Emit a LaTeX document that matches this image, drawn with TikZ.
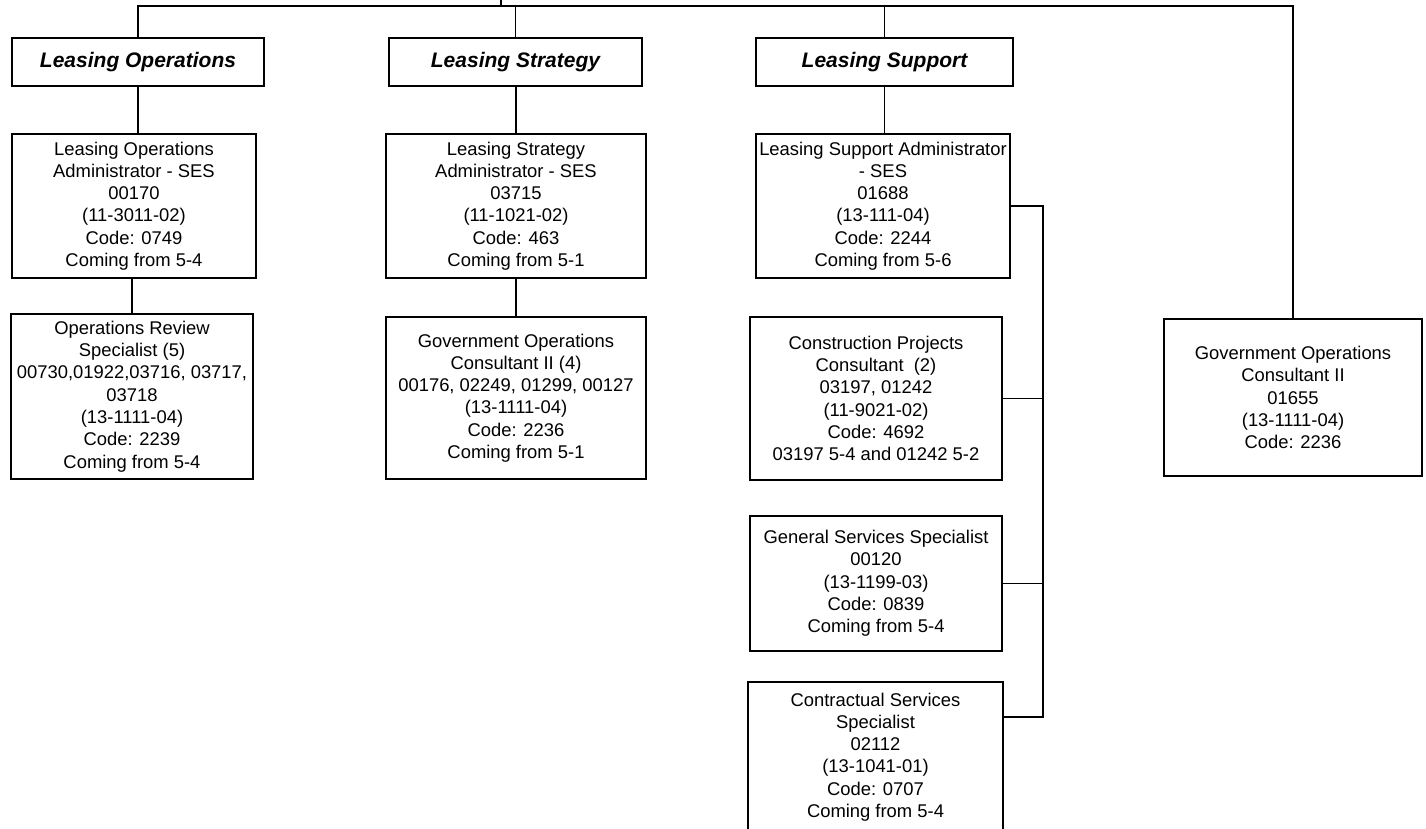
\documentclass[tikz,border=0pt]{standalone}
\usepackage{fontspec}
\setmainfont{Liberation Sans}
\usetikzlibrary{calc}
\begin{document}
\begin{tikzpicture}[x=1pt,y=-1pt,line width=1.8pt,
  every node/.style={inner sep=0pt,outer sep=0pt},
  unit/.style={draw,align=center,font=\fontsize{18.4}{22.3}\selectfont},
  head/.style={draw,align=center,font=\fontsize{21}{25}\selectfont\bfseries\itshape}]
\useasboundingbox (0,0) rectangle (1426,828);
\fill[white] (0,0) rectangle (1426,828);
\clip (0,0) rectangle (1426,828);

% division headings
\node[head,minimum width=252,minimum height=48] (hLO) at (138,62) {Leasing Operations};
\node[head,minimum width=253,minimum height=48] (hLS) at (515.5,62) {Leasing Strategy};
\node[head,minimum width=257,minimum height=48] (hLSup) at (884.5,62) {Leasing Support};

% administrators
\node[unit,minimum width=244,minimum height=144] (aLO) at (134,206)
  {Leasing Operations\\Administrator - SES\\00170\\(11-3011-02)\\Code: 0749\\Coming from 5-4};
\node[unit,minimum width=260,minimum height=144] (aLS) at (516,206)
  {Leasing Strategy\\Administrator - SES\\03715\\(11-1021-02)\\Code: 463\\Coming from 5-1};
\node[unit,minimum width=254,minimum height=144] (aLSup) at (883,206)
  {Leasing Support Administrator\\- SES\\01688\\(13-111-04)\\Code: 2244\\Coming from 5-6};

% staff positions
\node[unit,minimum width=242,minimum height=165] (rLO) at (132,396.5)
  {Operations Review\\Specialist (5)\\00730,01922,03716, 03717,\\03718\\(13-1111-04)\\Code: 2239\\Coming from 5-4};
\node[unit,minimum width=260,minimum height=162] (gLS) at (516,398)
  {Government Operations\\Consultant II (4)\\00176, 02249, 01299, 00127\\(13-1111-04)\\Code: 2236\\Coming from 5-1};
\node[unit,minimum width=252,minimum height=163] (cP) at (876,398.5)
  {Construction Projects\\Consultant\ \ (2)\\03197, 01242\\(11-9021-02)\\Code: 4692\\03197 5-4 and 01242 5-2};
\node[unit,minimum width=252,minimum height=135] (gS) at (876,583.5)
  {General Services Specialist\\00120\\(13-1199-03)\\Code: 0839\\Coming from 5-4};
\node[unit,minimum width=255,minimum height=150] (cS) at (875.5,757)
  {Contractual Services\\Specialist\\02112\\(13-1041-01)\\Code: 0707\\Coming from 5-4};
\node[unit,minimum width=258,minimum height=157] (gR) at (1293,397.5)
  {Government Operations\\Consultant II\\01655\\(13-1111-04)\\Code: 2236};

% top bus and its stem
\coordinate (stem) at (501,0);
\coordinate (bus) at (501,6);
\coordinate (rail) at (1043,0);
\coordinate (cSjoin) at ($(cS.north east)+(0,35)$);

\draw (hLO.north) -- (hLO.north |- bus) -- (gR.north |- bus) -- (gR.north);
\draw (stem) -- (bus);
\draw (hLS.north) -- (hLS.north |- bus);
\draw (hLSup.north) -- (hLSup.north |- bus);

% vertical reporting lines
\draw (hLO.south) -- (hLO.south |- aLO.north);
\draw (rLO.north) -- (rLO.north |- aLO.south);
\draw (aLS.north) -- (aLS.north |- hLS.south);
\draw (gLS.north) -- (gLS.north |- aLS.south);
\draw (hLSup.south) -- (hLSup.south |- aLSup.north);

% side rail under Leasing Support
\draw (aLSup.east) -- (aLSup.east -| rail) -- (rail |- cSjoin) -- (cSjoin);
\draw (cP.east) -- (cP.east -| rail);
\draw (gS.east) -- (gS.east -| rail);
\end{tikzpicture}
\end{document}
